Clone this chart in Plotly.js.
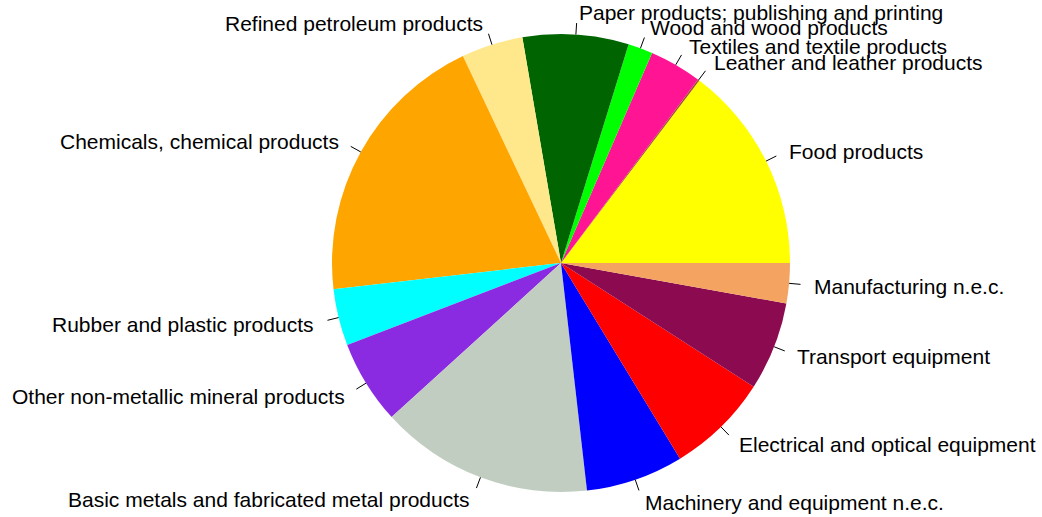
<!DOCTYPE html>
<html>
<head>
<meta charset="utf-8">
<script src="https://cdn.plot.ly/plotly-3.0.1.min.js"></script>
<style>html,body{margin:0;padding:0;background:#fff;}#chart{width:1042px;height:517px;}</style>
</head>
<body>
<div id="chart"></div>
<script>
// ---- data ----
const categories = [
  "Food products",
  "Leather and leather products",
  "Textiles and textile products",
  "Wood and wood products",
  "Paper products; publishing and printing",
  "Refined petroleum products",
  "Chemicals, chemical products",
  "Rubber and plastic products",
  "Other non-metallic mineral products",
  "Basic metals and fabricated metal products",
  "Machinery and equipment n.e.c.",
  "Electrical and optical equipment",
  "Transport equipment",
  "Manufacturing n.e.c."
];
const shares = [14.68, 0.12, 3.69, 1.74, 7.47, 4.35, 19.78, 4.00, 5.92, 15.06, 6.89, 7.21, 6.26, 2.83];
const sliceColors = ["#FFFF00", "#A0522D", "#FF1493", "#00FF00", "#006400", "#FFE88C", "#FFA500",
  "#00FFFF", "#8A2BE2", "#C1CDC1", "#0000FF", "#FF0000", "#8B0A50", "#F4A460"];

// ---- layout geometry ----
const W = 1042, H = 517;
const CX = 561, CY = 263, R = 229;
const px2x = p => p / W;
const py2y = p => 1 - p / H;

const total = shares.reduce((a, b) => a + b, 0);
const shapes = [];
const annotations = [];
let cum = 0;
shares.forEach((v, i) => {
  const mid = (cum + v / 2) / total * 2 * Math.PI;
  cum += v;
  const c = Math.cos(mid), s = Math.sin(mid);
  shapes.push({
    type: "line", xref: "paper", yref: "paper",
    x0: px2x(CX + R * c), y0: py2y(CY - R * s),
    x1: px2x(CX + 1.05 * R * c), y1: py2y(CY - 1.05 * R * s),
    line: {color: "#000", width: 1}
  });
  annotations.push({
    xref: "paper", yref: "paper",
    x: px2x(CX + 1.1 * R * c), y: py2y(CY - 1.1 * R * s),
    text: categories[i], showarrow: false,
    xanchor: c < 0 ? "right" : "left", yanchor: "middle",
    yshift: -1,
    font: {family: "Liberation Sans, Arial, sans-serif", size: 21, color: "#000"}
  });
});

// Plotly counterclockwise: first slice ends at 'rotation'; we want it to start at 3 o'clock
const rotation = 90 - shares[0] / total * 360;

const trace = {
  type: "pie",
  labels: categories,
  values: shares,
  sort: false,
  direction: "counterclockwise",
  rotation: rotation,
  textinfo: "none",
  hoverinfo: "label+percent",
  marker: {colors: sliceColors, line: {width: 0}},
  domain: {x: [px2x(CX - R), px2x(CX + R)], y: [py2y(CY + R), py2y(CY - R)]},
  showlegend: false
};

Plotly.newPlot("chart", [trace], {
  width: W, height: H,
  margin: {l: 0, r: 0, t: 0, b: 0},
  paper_bgcolor: "#fff",
  showlegend: false,
  shapes: shapes,
  annotations: annotations
}, {displayModeBar: false, staticPlot: true});
</script>
</body>
</html>
